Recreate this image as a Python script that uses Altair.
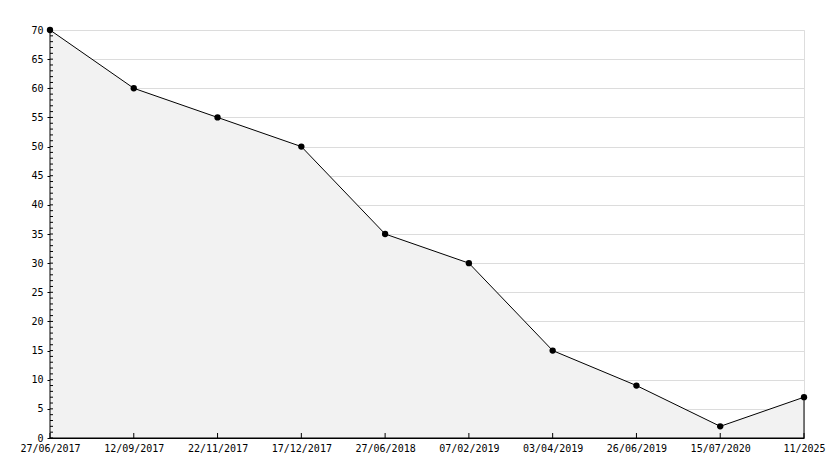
import altair as alt
import pandas as pd

dates = ["27/06/2017", "12/09/2017", "22/11/2017", "17/12/2017", "27/06/2018",
         "07/02/2019", "03/04/2019", "26/06/2019", "15/07/2020", "11/2025"]
values = [70, 60, 55, 50, 35, 30, 15, 9, 2, 7]
y_ticks = list(range(0, 75, 5))
minor_ticks = list(range(0, 71))

df = pd.DataFrame({"date": dates, "value": values})
minor_df = pd.DataFrame({"v": minor_ticks})

W, H = 754, 408
FONT = "DejaVu Sans Mono"

xscale = alt.Scale(type="point", domain=dates, padding=0)
xaxis = alt.Axis(title=None, labelAngle=0, ticks=False, domainColor="black",
                 labelFont=FONT, labelFontSize=10, labelColor="black",
                 labelPadding=5, grid=False, labelFlush=False, labelOverlap=False)
yscale = alt.Scale(domain=[0, 70], nice=False)
yaxis = alt.Axis(title=None, values=y_ticks, tickSize=3, tickColor="black",
                 domainColor="black", labelFont=FONT, labelFontSize=10,
                 labelColor="black", labelPadding=4, grid=True, labelOverlap=False,
                 gridColor="#dcdcdc", gridWidth=1)

xenc = alt.X("date:N", scale=xscale, axis=xaxis)

base = alt.Chart(df)
area = base.mark_area(color="#f2f2f2", stroke="black", strokeWidth=1, interpolate="linear").encode(
    x=xenc, y=alt.Y("value:Q", scale=yscale, axis=yaxis))
pts = base.mark_point(shape="circle", filled=True, color="black", size=40, opacity=1).encode(
    x=xenc, y=alt.Y("value:Q", scale=yscale, axis=yaxis))
xt = base.mark_rule(color="black", strokeWidth=1).encode(
    x=xenc, y=alt.value(H - 5), y2=alt.value(H))
minor = alt.Chart(minor_df).mark_rule(color="black", strokeWidth=1).encode(
    y=alt.Y("v:Q", scale=yscale, axis=yaxis), x=alt.value(0), x2=alt.value(3))

chart = alt.layer(area, xt, minor, pts).properties(
    width=W, height=H,
    autosize=alt.AutoSizeParams(type="none"),
    padding={"left": 42, "top": 22, "right": 22, "bottom": 22},
).configure_view(stroke=None).configure(background="white")

chart.save("out.html", embed_options={"renderer": "svg", "actions": False})
